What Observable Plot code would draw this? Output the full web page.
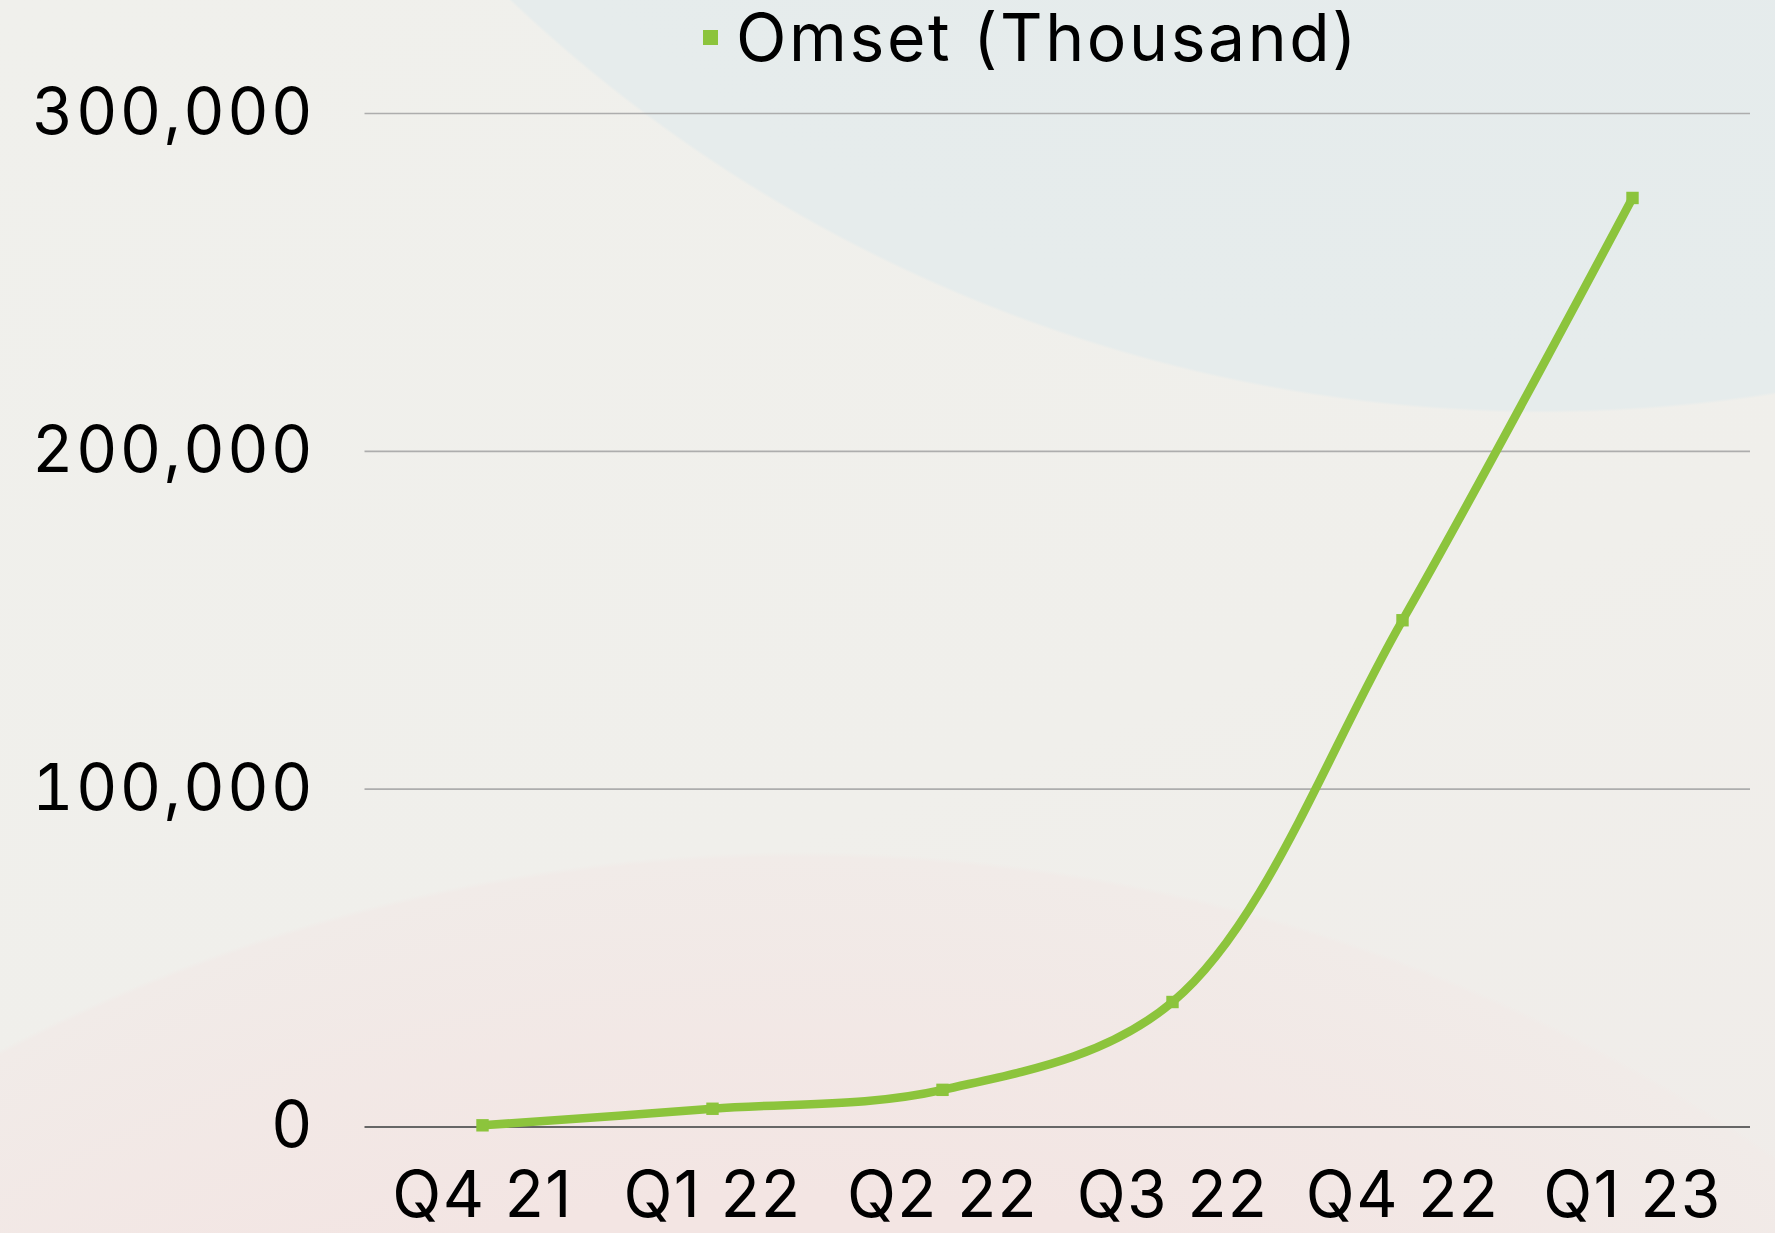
<!DOCTYPE html>
<html>
<head>
<meta charset="utf-8">
<script src="https://cdn.jsdelivr.net/npm/d3@7"></script>
<script src="https://cdn.jsdelivr.net/npm/@observablehq/plot@0.6"></script>
<style>
  html, body { margin: 0; padding: 0; }
  body {
    width: 1775px; height: 1233px; overflow: hidden; position: relative;
    font-family: Inter, "Noto Sans", sans-serif;
    background:
      radial-gradient(circle 1500px at 1542px -1087px, #e3eaec 0%, #e6ecec 97%, #e6ecec 99.8%, rgba(230,236,236,0) 100%),
      radial-gradient(circle 1718px at 800px 2570px, #f3e5e3 80%, #f1ebe8 99.7%, rgba(241,235,232,0) 100%),
      linear-gradient(160deg, #f0f0ec 0%, #f0efeb 60%, #f0ece9 100%);
  }
  #legend {
    position: absolute; left: 703px; top: 2px; height: 70px;
    display: flex; align-items: center; gap: 18px;
    font-size: 66px; line-height: 1; color: #000; letter-spacing: 2.6px;
  }
  #legend .sw { width: 15px; height: 15px; background: #8cc43c; }
  #chart { position: absolute; left: 0; top: 70px; }
  #chart svg g[aria-label="y-axis tick label"] text { letter-spacing: 2.4px; }
  #chart svg g[aria-label="x-axis tick label"] text { letter-spacing: 1.4px; }
</style>
</head>
<body>
<div id="legend"><div class="sw"></div><div>Omset (Thousand)</div></div>
<div id="chart"></div>
<script>
const categories = ["Q4 21", "Q1 22", "Q2 22", "Q3 22", "Q4 22", "Q1 23"];
const values = [500, 5400, 11000, 37000, 150000, 275000];
const yTicks = [0, 100000, 200000, 300000];
const seriesName = "Omset (Thousand)";
const lineColor = "#8cc43c";

const data = categories.map((c, i) => ({quarter: c, value: values[i]}));
const fmt = d3.format(",");

const chart = Plot.plot({
  width: 1775,
  height: 1163,
  marginLeft: 364.5,
  marginRight: 25,
  marginTop: 43,
  marginBottom: 106.5,
  style: {background: "transparent", fontFamily: "Inter, 'Noto Sans', sans-serif", color: "#000"},
  x: {type: "point", domain: categories, padding: 0.5, align: 0.5},
  y: {domain: [0, 300000]},
  marks: [
    Plot.gridY(yTicks.filter(d => d > 0), {stroke: "#adadad", strokeOpacity: 1, strokeWidth: 1.6}),
    Plot.ruleY([0], {stroke: "#666", strokeWidth: 1.8}),
    Plot.axisY({ticks: yTicks, tickFormat: fmt, tickSize: 0, tickPadding: 50, fontSize: 64, label: null}),
    Plot.axisX({tickSize: 0, tickPadding: 45, fontSize: 64, label: null}),
    Plot.line(data, {x: "quarter", y: "value", stroke: lineColor, strokeWidth: 8.5, curve: "catmull-rom"}),
    Plot.dot(data, {x: "quarter", y: "value", symbol: "square", r: 7, fill: lineColor})
  ]
});
document.getElementById("chart").appendChild(chart);
</script>
</body>
</html>
